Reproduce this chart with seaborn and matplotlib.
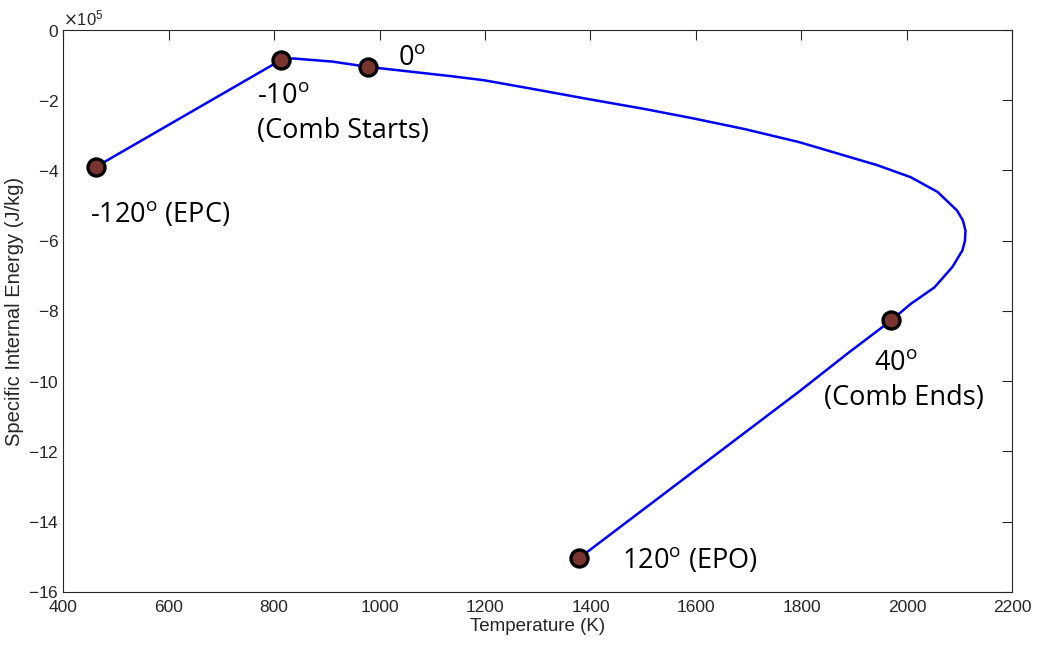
import numpy as np
import pandas as pd
import seaborn as sns
import matplotlib.pyplot as plt

# cycle curve (T in K, u in J/kg)
temp = [463, 813, 836, 911, 978, 1133, 1198, 1295, 1397, 1503, 1596, 1692,
        1795, 1944, 2007, 2058, 2095, 2106, 2111, 2110, 2105, 2086, 2052,
        2007, 1970, 1890, 1795, 1379]
energy = [-389000, -85700, -81000, -90000, -105000, -131000, -143000, -169000,
          -197000, -225000, -252000, -282000, -319000, -385000, -419000,
          -461000, -514000, -542000, -571000, -600000, -628000, -675000,
          -733000, -780000, -827000, -918000, -1030000, -1503000]

# marked crank angles
pt_temp = [463, 813, 978, 1970, 1379]
pt_energy = [-389000, -85700, -105000, -827000, -1503000]

curve = pd.DataFrame({"T": temp, "u": energy})
pts = pd.DataFrame({"T": pt_temp, "u": pt_energy})

sns.set_style("white")
plt.rcParams['font.family'] = ['Liberation Sans', 'DejaVu Sans']
plt.rcParams['axes.unicode_minus'] = False

fig = plt.figure(figsize=(10.37, 6.48), dpi=100)
ax = fig.add_axes([0.0608, 0.0865, 0.9155, 0.8672])

sns.lineplot(data=curve, x="T", y="u", sort=False, estimator=None,
             color=(0, 0, 1), linewidth=1.8, ax=ax)
sns.scatterplot(data=pts, x="T", y="u", s=150, color="#7a3430",
                edgecolor="black", linewidth=2.4, zorder=5, ax=ax)

ax.set_xlim(400, 2200)
ax.set_ylim(-1600000, 0)
ax.set_xticks(np.arange(400, 2201, 200))
ax.set_yticks(np.arange(-1600000, 1, 200000))
ax.ticklabel_format(axis='y', style='sci', scilimits=(5, 5), useMathText=True)
ax.yaxis.get_offset_text().set_fontsize(12)
ax.yaxis.get_offset_text().set_color('#262626')

ax.tick_params(direction='in', length=7, width=0.8, top=True, right=True,
               labelsize=12.5, colors='#262626', pad=3)
ax.tick_params(axis='x', pad=6)
for s in ax.spines.values():
    s.set_color('#262626')
    s.set_linewidth(0.8)

ax.set_xlabel("Temperature (K)", fontsize=13.5, color='#262626', labelpad=2)
ax.set_ylabel("Specific Internal Energy (J/kg)", fontsize=14.5, color='#262626', labelpad=3)

# annotations, offsets in points from each marker
labels = [
    (r'-120$^{\mathregular{o}}$ (EPC)', 0, (-4.8, -39.8)),
    (r'-10$^{\mathregular{o}}$', 1, (-17, -31.2)),
    ('(Comb Starts)', 1, (-17, -56)),
    (r'0$^{\mathregular{o}}$', 2, (21.4, 1.2)),
    (r'40$^{\mathregular{o}}$', 3, (-12, -36)),
    ('(Comb Ends)', 3, (-48, -61.2)),
    (r'120$^{\mathregular{o}}$ (EPO)', 4, (30.5, -7.2)),
]
for txt, i, off in labels:
    ax.annotate(txt, xy=(pt_temp[i], pt_energy[i]), xytext=off,
                textcoords='offset points', ha='left', va='baseline',
                fontsize=19.5, family=['Open Sans', 'DejaVu Sans'], color='black')

fig.savefig("out.png", dpi=100)
